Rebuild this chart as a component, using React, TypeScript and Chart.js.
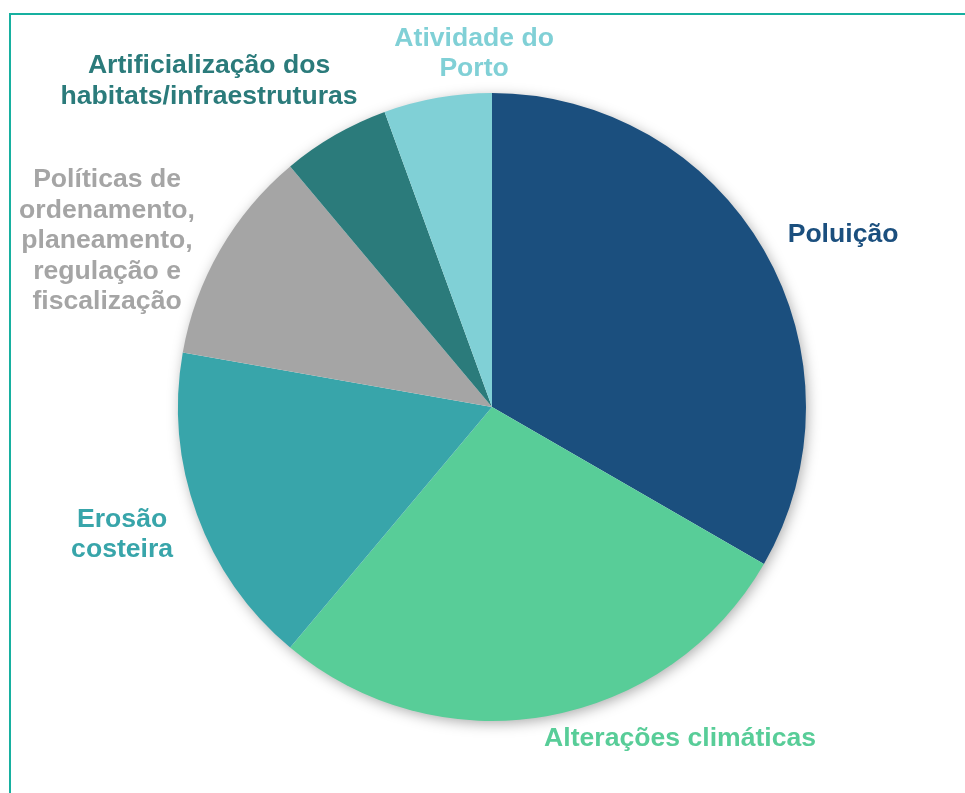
import React, { useEffect, useRef } from "react";
import { Chart, registerables } from "chart.js";

Chart.register(...registerables);

const categories = [
  "Poluição",
  "Alterações climáticas",
  "Erosão costeira",
  "Políticas de ordenamento, planeamento, regulação e fiscalização",
  "Artificialização dos habitats/infraestruturas",
  "Atividade do Porto",
];
const labelLines = [
  ["Poluição"],
  ["Alterações climáticas"],
  ["Erosão", "costeira"],
  ["Políticas de", "ordenamento,", "planeamento,", "regulação e", "fiscalização"],
  ["Artificialização dos", "habitats/infraestruturas"],
  ["Atividade do", "Porto"],
];
const values = [6, 5, 3, 2, 1, 1];
const sliceColors = ["#1B4F7E", "#58CD98", "#38A5AA", "#A5A5A5", "#2B7B7B", "#80D0D6"];
const labelColors = ["#1B4F7E", "#58CD98", "#38A5AA", "#A5A5A5", "#2B7B7B", "#80D0D6"];
// label block centers relative to pie center, in units of the pie radius
const labelPos = [
  [1.118, -0.548],
  [0.599, 1.057],
  [-1.178, 0.407],
  [-1.226, -0.529],
  [-0.901, -1.037],
  [-0.057, -1.126],
];

const FONT = "bold 26.6px 'Liberation Sans', Arial, sans-serif";
const LINE_H = 30.5;

const shadowPlugin = {
  id: "pieShadow",
  beforeDatasetsDraw(chart: any) {
    const meta = chart.getDatasetMeta(0);
    const arc = meta.data[0];
    if (!arc) return;
    const { x, y, outerRadius } = arc.getProps(["x", "y", "outerRadius"], true);
    const ctx = chart.ctx;
    ctx.save();
    ctx.shadowColor = "rgba(0,0,0,0.35)";
    ctx.shadowBlur = 14;
    ctx.shadowOffsetX = 2;
    ctx.shadowOffsetY = 3;
    ctx.beginPath();
    ctx.arc(x, y, outerRadius - 1, 0, Math.PI * 2);
    ctx.fillStyle = "#ffffff";
    ctx.fill();
    ctx.restore();
  },
};

const labelPlugin = {
  id: "outerLabels",
  afterDatasetsDraw(chart: any) {
    const meta = chart.getDatasetMeta(0);
    const ctx = chart.ctx;
    ctx.save();
    ctx.font = FONT;
    ctx.textAlign = "center";
    ctx.textBaseline = "middle";
    meta.data.forEach((arc: any, i: number) => {
      const { x, y, outerRadius } = arc.getProps(["x", "y", "outerRadius"], true);
      const lines = labelLines[i];
      const cx = x + labelPos[i][0] * outerRadius;
      const cy = y + labelPos[i][1] * outerRadius;
      const startY = cy - ((lines.length - 1) * LINE_H) / 2;
      ctx.fillStyle = labelColors[i];
      lines.forEach((ln, j) => {
        ctx.fillText(ln, cx, startY + j * LINE_H);
      });
    });
    ctx.restore();
  },
};

export default function App() {
  const ref = useRef<HTMLCanvasElement | null>(null);
  useEffect(() => {
    if (!ref.current) return;
    const chart = new Chart(ref.current, {
      type: "pie",
      data: {
        labels: categories,
        datasets: [
          {
            data: values,
            backgroundColor: sliceColors,
            borderWidth: 0,
          },
        ],
      },
      options: {
        responsive: false,
        animation: false,
        devicePixelRatio: 1,
        layout: { padding: { left: 178, right: 159, top: 93, bottom: 72 } },
        plugins: {
          legend: { display: false },
          tooltip: { enabled: false },
        },
      },
      plugins: [shadowPlugin, labelPlugin],
    } as any);
    return () => chart.destroy();
  }, []);
  return (
    <div style={{ position: "fixed", left: 0, top: 0, width: 965, height: 793, background: "#fff", overflow: "hidden" }}>
      <canvas ref={ref} width={965} height={793} style={{ position: "absolute", left: 0, top: 0 }} />
      <div
        style={{
          position: "absolute",
          left: 9,
          top: 13,
          width: 1000,
          height: 1000,
          borderTop: "2px solid #17B0A0",
          borderLeft: "2px solid #17B0A0",
          pointerEvents: "none",
        }}
      />
    </div>
  );
}
